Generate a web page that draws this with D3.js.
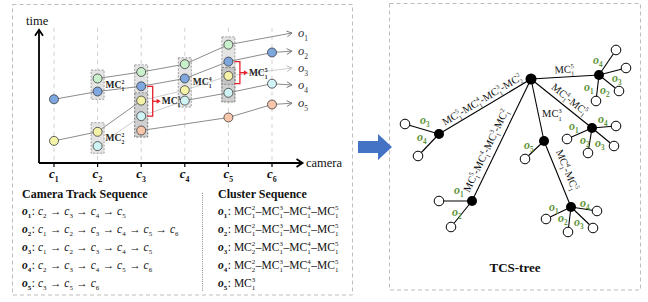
<!DOCTYPE html>
<html>
<head>
<meta charset="utf-8">
<script src="https://cdn.jsdelivr.net/npm/d3@7"></script>
<style>
  body { margin: 0; background: #fff; }
  text { white-space: pre; }
</style>
</head>
<body>
<script>
// ---- data ----
const cameras = [1, 2, 3, 4, 5, 6];
const objects = [1, 2, 3, 4, 5];
const objColors = ['#c8f0cb', '#7ea6df', '#f4f3a8', '#d0f3f6', '#f7c6ab'];
const trackCams = [[2, 3, 4, 5], [1, 2, 3, 4, 5, 6], [1, 2, 3, 4, 5], [2, 3, 4, 5, 6], [3, 5, 6]];
const trackTimes = [[6.5, 7.0, 7.6, 9.1], [4.9, 5.5, 5.9, 6.5, 7.8, 8.5], [1.7, 2.4, 4.8, 5.6, 6.7], [1.3, 3.6, 4.8, 5.4, 6.1], [2.5, 3.5, 4.5]];
const arrowTimes = [10.0, 8.6, 7.3, 6.0, 4.6];
const faintSegs = [[], [], [2, 3, 4], [0, 1], []];

// clusters: camera, time span, MC sub/sup
const clusterCam = [2, 2, 3, 4, 5];
const clusterTop = [7.15, 3.1, 7.55, 8.1, 9.7];
const clusterBottom = [4.9, 0.75, 2.0, 4.3, 4.7];
const clusterSub = [1, 2, null, 1, null];
const clusterSup = [2, 2, null, 4, null];
// darker sub-groups inside clusters
const subCam = [3, 5, 5];
const subTop = [5.4, 7.35, 7.35];
const subBottom = [2.0, 4.7, 6.05];
// red merge brackets
const mergeCam = [3, 5];
const mergeTop = [5.9, 7.8];
const mergeBottom = [3.6, 6.1];
const mergeSub = [1, 1];
const mergeSup = [3, 5];

// cluster sequences per object: [sub, sup]
const clusterSeq = [
  [[1, 2], [1, 3], [1, 4], [1, 5]],
  [[1, 2], [1, 3], [1, 4], [1, 5]],
  [[2, 2], [1, 3], [1, 4], [1, 5]],
  [[2, 2], [1, 3], [1, 4], [1, 5]],
  [[1, 3]],
];

// TCS-tree
const innerIds = ['R', 'A', 'B', 'C', 'D', 'E', 'F'];
const innerParent = [null, 'R', 'R', 'R', 'C', 'R', 'R'];
const innerX = [531, 599, 592, 544, 571, 439, 472];
const innerY = [79, 75, 128, 141, 207, 134, 201];
const edgeLabels = [null, [[1, 5]], [[1, 4], [1, 5]], [[1, 3]], [[1, 4], [1, 5]], [[1, 5], [1, 4], [1, 3], [2, 2]], [[1, 5], [1, 4], [1, 3], [1, 2]]];
const leafParent = ['A', 'A', 'A', 'A', 'B', 'B', 'B', 'B', 'C', 'D', 'D', 'D', 'D', 'E', 'E', 'F', 'F'];
const leafObj = [4, 3, 2, 1, 4, 3, 2, 1, 5, 1, 2, 3, 4, 3, 4, 1, 2];
const leafX = [616, 626, 619, 596, 616, 614, 588, 567, 525, 546, 568, 593, 597, 405, 418, 439, 451];
const leafY = [50, 68, 91, 101, 126, 146, 153, 139, 159, 219, 232, 228, 211, 124, 156, 201, 227];
const leafLX = [598, 617, 605, 589, 603, 600, 585, 574, 529, 554, 563, 579, 585, 425, 422, 459, 457];
const leafLY = [60, 78, 90, 87, 119, 143, 140, 126, 145, 207, 218, 222, 203, 120, 137, 190, 212];

// ---- drawing ----
const W = 648; const H = 302;
const svg = d3.select('body').append('svg')
    .attr('width', W).attr('height', H)
    .style('font-family', '"Liberation Serif", "Times New Roman", serif');

const x = d3.scaleLinear().domain([1, 6]).range([54, 272]);
const y = d3.scaleLinear().domain([0, 10]).range([163, 33]);
const axisX = 39; const axisY = 163;
const R = 4.5;
const boxW = 13;

// rich text: sequence of tokens, plain text or stacked sub/sup
const rich = (g, x0, y0, toks, size, fill) => {
  let cx = x0;
  toks.forEach((tk) => {
    const st = (el, fs) => el.style('font-size', fs + 'px')
        .style('font-weight', tk.b ? 'bold' : 'normal')
        .style('font-style', tk.i ? 'italic' : 'normal')
        .attr('fill', tk.c || fill);
    if (tk.t !== undefined) {
      const el = st(g.append('text').attr('x', cx).attr('y', y0).text(tk.t), size);
      cx += el.node().getComputedTextLength();
    } else {
      let w = 0;
      if (tk.sup != null) {
        const el = st(g.append('text').attr('x', cx).attr('y', y0 - size * 0.42).text(tk.sup), size * 0.6);
        w = Math.max(w, el.node().getComputedTextLength());
      }
      if (tk.sub != null) {
        const el = st(g.append('text').attr('x', cx).attr('y', y0 + size * 0.3).text(tk.sub), size * 0.6);
        w = Math.max(w, el.node().getComputedTextLength());
      }
      cx += w + 0.6;
    }
  });
  return cx - x0;
};
const mcToks = (pairs, b, sep) => {
  const out = [];
  pairs.forEach((p, i) => {
    if (i) out.push({t: sep, b});
    out.push({t: 'MC', b}, {sub: p[0], sup: p[1], b});
  });
  return out;
};
const oToks = (k, b) => [{t: 'o', b, i: 1}, {sub: k, b, i: 0}];

// panels
svg.append('rect').attr('x', 12.5).attr('y', 4.5).attr('width', 340).attr('height', 290.5)
    .attr('fill', 'none').attr('stroke', '#bdbdbd').attr('stroke-dasharray', '4,3');
svg.append('rect').attr('x', 389.5).attr('y', 3.5).attr('width', 251).attr('height', 286.5)
    .attr('fill', 'none').attr('stroke', '#bdbdbd').attr('stroke-dasharray', '4,3');

// blue block arrow
svg.append('path')
    .attr('d', 'M358,141L378,141L378,134L392,147L378,160L378,153L358,153Z')
    .attr('fill', '#4472c4');

// ---- left chart ----
const chart = svg.append('g');

chart.selectAll('.grid').data(cameras).enter().append('line')
    .attr('x1', (d) => x(d)).attr('x2', (d) => x(d))
    .attr('y1', y(10.4)).attr('y2', axisY)
    .attr('stroke', '#cfcfcf').attr('stroke-dasharray', '4,4');

// cluster boxes
chart.selectAll('.cbox').data(clusterCam).enter().append('rect')
    .attr('x', (d) => x(d) - boxW / 2).attr('width', boxW)
    .attr('y', (d, i) => y(clusterTop[i]))
    .attr('height', (d, i) => y(clusterBottom[i]) - y(clusterTop[i]))
    .attr('fill', '#e4e4e4').attr('stroke', '#8a8a8a').attr('stroke-width', 0.8)
    .attr('stroke-dasharray', '2,1.5');
chart.selectAll('.sbox').data(subCam).enter().append('rect')
    .attr('x', (d) => x(d) - boxW / 2).attr('width', boxW)
    .attr('y', (d, i) => y(subTop[i]))
    .attr('height', (d, i) => y(subBottom[i]) - y(subTop[i]))
    .attr('fill', '#bdbdbd').attr('fill-opacity', 0.55)
    .attr('stroke', '#7a7a7a').attr('stroke-width', 0.8).attr('stroke-dasharray', '2,1.5');

// tracks
const arrowCam = 6.46;
objects.forEach((o, oi) => {
  const pts = trackCams[oi].map((c, j) => [x(c), y(trackTimes[oi][j])]);
  pts.push([x(arrowCam), y(arrowTimes[oi])]);
  for (let s = 0; s < pts.length - 1; s++) {
    const faint = faintSegs[oi].indexOf(s) >= 0;
    chart.append('line')
        .attr('x1', pts[s][0]).attr('y1', pts[s][1])
        .attr('x2', pts[s + 1][0]).attr('y2', pts[s + 1][1])
        .attr('stroke', faint ? '#cdcdcd' : '#8c8c8c').attr('stroke-width', 1);
  }
  // chevron head
  const a = pts[pts.length - 2]; const b = pts[pts.length - 1];
  const ang = Math.atan2(b[1] - a[1], b[0] - a[0]);
  const hl = 6; const hw = 0.5;
  const faintEnd = faintSegs[oi].indexOf(pts.length - 2) >= 0;
  chart.append('path')
      .attr('d', `M${b[0] - hl * Math.cos(ang - hw)},${b[1] - hl * Math.sin(ang - hw)}L${b[0]},${b[1]}L${b[0] - hl * Math.cos(ang + hw)},${b[1] - hl * Math.sin(ang + hw)}`)
      .attr('fill', 'none').attr('stroke', faintEnd ? '#bdbdbd' : '#7a7a7a').attr('stroke-width', 1);
  rich(chart, b[0] + 6, b[1] + 4, oToks(o, 0).map((t) => Object.assign({c: '#333'}, t)), 12.5, '#333');
});

// nodes
objects.forEach((o, oi) => {
  chart.selectAll(null).data(trackCams[oi]).enter().append('circle')
      .attr('cx', (d) => x(d)).attr('cy', (d, j) => y(trackTimes[oi][j]))
      .attr('r', R).attr('fill', objColors[oi])
      .attr('stroke', '#3a3a3a').attr('stroke-width', 0.8);
});

// cluster labels
clusterCam.forEach((c, i) => {
  if (clusterSub[i] == null) return;
  const ym = (y(clusterTop[i]) + y(clusterBottom[i])) / 2;
  rich(chart, x(c) + boxW / 2 + 1.5, ym + 3, mcToks([[clusterSub[i], clusterSup[i]]], 1, ''), 9.5, '#222');
});

// red merge brackets
mergeCam.forEach((c, i) => {
  const x0 = x(c) + R + 1.5; const x1 = x(c) + boxW / 2 + 5;
  const y0 = y(mergeTop[i]); const y1 = y(mergeBottom[i]);
  const ym = (y0 + y1) / 2;
  chart.append('path').attr('d', `M${x0},${y0}H${x1}V${y1}H${x0}`)
      .attr('fill', 'none').attr('stroke', '#e8202a').attr('stroke-width', 1.3);
  chart.append('line').attr('x1', x1).attr('x2', x1 + 6).attr('y1', ym).attr('y2', ym)
      .attr('stroke', '#e8202a').attr('stroke-width', 1.3);
  chart.append('path').attr('d', `M${x1 + 8},${ym}L${x1 + 4},${ym - 2.5}L${x1 + 4},${ym + 2.5}Z`)
      .attr('fill', '#e8202a');
  rich(chart, x1 + 9, ym + 3, mcToks([[mergeSub[i], mergeSup[i]]], 1, ''), 9.5, '#222');
});

// axes
chart.append('path').attr('d', `M${axisX},${axisY}V${y(10.25)}M${axisX},${axisY}H${x(6.7)}`)
    .attr('fill', 'none').attr('stroke', '#000').attr('stroke-width', 1.8);
chart.append('path').attr('d', `M${axisX - 4},${y(10.25) + 6}L${axisX},${y(10.25)}L${axisX + 4},${y(10.25) + 6}`)
    .attr('fill', 'none').attr('stroke', '#000').attr('stroke-width', 1.8);
chart.append('path').attr('d', `M${x(6.7) - 6},${axisY - 4}L${x(6.7)},${axisY}L${x(6.7) - 6},${axisY + 4}`)
    .attr('fill', 'none').attr('stroke', '#000').attr('stroke-width', 1.8);
chart.selectAll('.tick').data(cameras).enter().append('line')
    .attr('x1', (d) => x(d)).attr('x2', (d) => x(d))
    .attr('y1', axisY).attr('y2', axisY + 4)
    .attr('stroke', '#000').attr('stroke-width', 1.2);
cameras.forEach((c) => {
  rich(chart, x(c) - 5, axisY + 15, [{t: 'c', b: 1, i: 1}, {sub: c, b: 1}], 13, '#111');
});
chart.append('text').attr('x', 26).attr('y', 25).text('time')
    .style('font-size', '12.5px').attr('fill', '#111');
chart.append('text').attr('x', 306).attr('y', 167).text('camera')
    .style('font-size', '12.5px').attr('fill', '#111');

// ---- sequences ----
const seq = svg.append('g');
seq.append('text').attr('x', 22).attr('y', 198).text('Camera Track Sequence')
    .style('font-size', '12px').style('font-weight', 'bold').attr('fill', '#111');
seq.append('text').attr('x', 218).attr('y', 198).text('Cluster Sequence')
    .style('font-size', '12px').style('font-weight', 'bold').attr('fill', '#111');
seq.append('line').attr('x1', 202.5).attr('x2', 202.5).attr('y1', 193).attr('y2', 291)
    .attr('stroke', '#888').attr('stroke-dasharray', '1,1.2');

const rowY = [215, 233, 251, 269, 287];
objects.forEach((o, oi) => {
  const toks = oToks(o, 1).concat([{t: ': '}]);
  trackCams[oi].forEach((c, j) => {
    if (j) toks.push({t: ' → '});
    toks.push({t: 'c', i: 1}, {sub: c});
  });
  rich(seq, 22, rowY[oi], toks, 11.5, '#111');
  const ctoks = oToks(o, 1).concat([{t: ': '}], mcToks(clusterSeq[oi], 0, '–'));
  rich(seq, 218, rowY[oi], ctoks, 11.5, '#111');
});

// ---- TCS-tree ----
const tree = svg.append('g');
const idx = (id) => innerIds.indexOf(id);
// edges
innerIds.forEach((id, i) => {
  if (!innerParent[i]) return;
  const p = idx(innerParent[i]);
  tree.append('line').attr('x1', innerX[p]).attr('y1', innerY[p]).attr('x2', innerX[i]).attr('y2', innerY[i])
      .attr('stroke', '#000').attr('stroke-width', 1.1);
});
leafParent.forEach((pid, i) => {
  const p = idx(pid);
  tree.append('line').attr('x1', innerX[p]).attr('y1', innerY[p]).attr('x2', leafX[i]).attr('y2', leafY[i])
      .attr('stroke', '#000').attr('stroke-width', 1.1);
});
// edge labels
const labelT = [0, 0.5, 0.55, 0.62, 0.5, 0.51, 0.38];
const labelOff = [0, 4, 5, 0, 7, 4, 6];
innerIds.forEach((id, i) => {
  if (!edgeLabels[i]) return;
  const p = idx(innerParent[i]);
  let ax = innerX[p]; let ay = innerY[p]; let bx = innerX[i]; let by = innerY[i];
  if (bx < ax) { [ax, bx] = [bx, ax]; [ay, by] = [by, ay]; }
  const g = tree.append('g');
  if (id === 'C') {
    const cx = ax + (bx - ax) * labelT[i]; const cy = ay + (by - ay) * labelT[i];
    rich(g, cx + 3, cy, mcToks(edgeLabels[i], 0, '-'), 10.5, '#111');
    return;
  }
  const ang = Math.atan2(by - ay, bx - ax);
  const t = labelT[i];
  const cx = ax + (bx - ax) * t + Math.sin(ang) * labelOff[i];
  const cy = ay + (by - ay) * t - Math.cos(ang) * labelOff[i];
  g.attr('transform', `translate(${cx},${cy}) rotate(${ang * 180 / Math.PI})`);
  const inner = g.append('g');
  const w = rich(inner, 0, 0, mcToks(edgeLabels[i], 0, '-'), 10.5, '#111');
  inner.attr('transform', `translate(${-w / 2},0)`);
});
// nodes
tree.selectAll('.leaf').data(leafX).enter().append('circle')
    .attr('cx', (d) => d).attr('cy', (d, i) => leafY[i]).attr('r', 4.8)
    .attr('fill', '#fff').attr('stroke', '#000').attr('stroke-width', 1);
tree.selectAll('.inner').data(innerX).enter().append('circle')
    .attr('cx', (d) => d).attr('cy', (d, i) => innerY[i]).attr('r', (d, i) => i ? 5 : 5.5)
    .attr('fill', '#000');
// leaf labels
leafObj.forEach((o, i) => {
  const g = tree.append('g');
  const w = rich(g, 0, 0, oToks(o, 1), 12, '#5e9438');
  g.attr('transform', `translate(${leafLX[i] - w / 2},${leafLY[i] + 3.5})`);
});
tree.append('text').attr('x', 515).attr('y', 272).attr('text-anchor', 'middle').text('TCS-tree')
    .style('font-size', '13px').style('font-weight', 'bold').attr('fill', '#111');
</script>
</body>
</html>
